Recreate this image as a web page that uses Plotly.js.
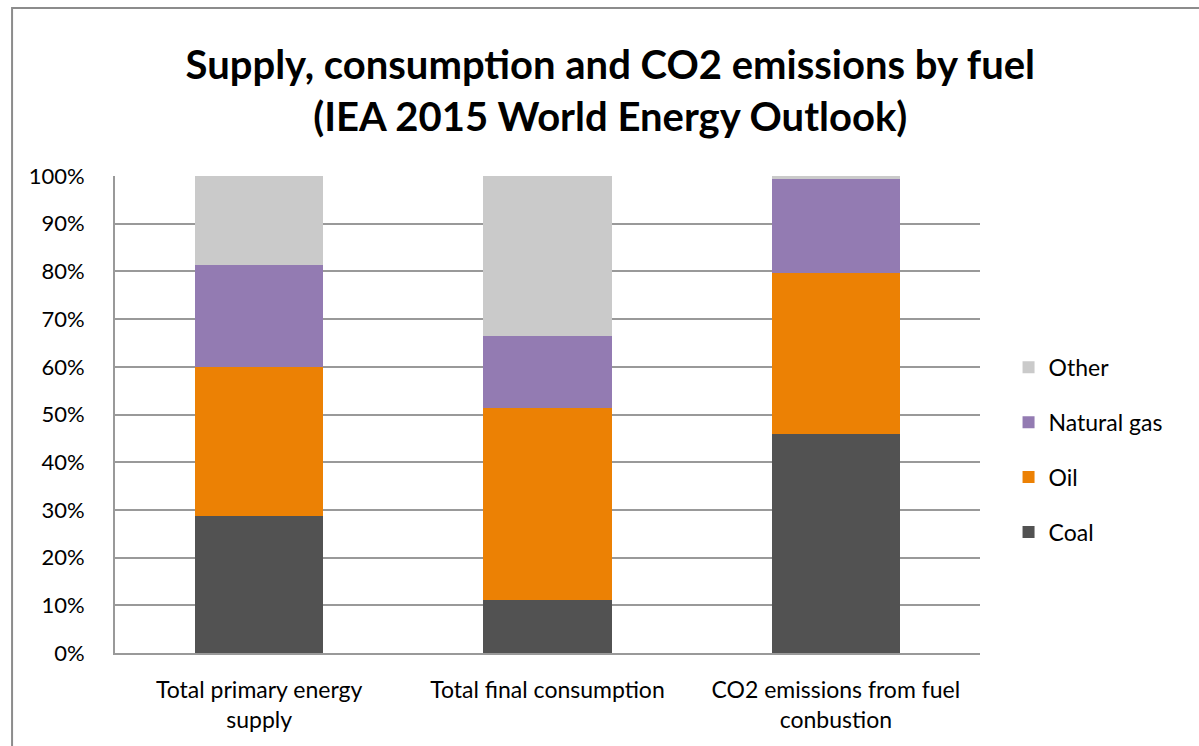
<!DOCTYPE html>
<html>
<head>
<meta charset="utf-8">
<script src="https://cdn.plot.ly/plotly-3.0.1.min.js"></script>
<style>html,body{margin:0;padding:0;background:#fff;}#chart{width:1199px;height:746px;}</style>
</head>
<body>
<div id="chart"></div>
<script>
var categories = ["Total primary energy<br>supply", "Total final consumption", "CO2 emissions from fuel<br>conbustion"];
var coal = [28.7, 11.1, 45.9];
var oil = [31.2, 40.3, 33.7];
var naturalGas = [21.5, 15.1, 19.8];
var other = [18.6, 33.5, 0.6];
var seriesNames = ["Coal", "Oil", "Natural gas", "Other"];
var seriesValues = [coal, oil, naturalGas, other];
var seriesColors = ["#525252", "#ec8104", "#937bb2", "#cacaca"];
var yTicks = [0, 10, 20, 30, 40, 50, 60, 70, 80, 90, 100];

var font = "Lato, 'Open Sans', sans-serif";
var traces = seriesNames.map(function (n, i) {
  return {
    type: "bar",
    name: n,
    x: categories,
    y: seriesValues[i],
    marker: {color: seriesColors[i], line: {width: 0}},
    legendgroup: n,
    legendrank: 4 - i,
    hoverinfo: "x+y+name"
  };
});

var layout = {
  width: 1199,
  height: 746,
  barmode: "stack",
  bargap: 0.556,
  paper_bgcolor: "#ffffff",
  plot_bgcolor: "#ffffff",
  margin: {l: 115, r: 219, t: 176, b: 93},
  font: {family: font, color: "#000000", size: 22},
  title: {
    text: "<b>Supply, consumption and CO2 emissions by fuel<br>(IEA 2015 World Energy Outlook)</b>",
    font: {family: font, size: 40, color: "#000000"},
    x: 0.509, xref: "container", xanchor: "center",
    y: 0.894, yref: "container", yanchor: "middle"
  },
  xaxis: {
    type: "category",
    showgrid: false,
    showline: true,
    linecolor: "#999999",
    linewidth: 2,
    ticks: "",
    tickfont: {family: font, size: 23, color: "#000000"},
    ticklabelstandoff: 15,
    fixedrange: true
  },
  yaxis: {
    range: [0, 100],
    tickvals: yTicks,
    ticktext: yTicks.map(function (v) { return v + "%"; }),
    showgrid: true,
    gridcolor: "#999999",
    gridwidth: 2,
    showline: true,
    linecolor: "#999999",
    linewidth: 2,
    zeroline: false,
    ticks: "",
    tickfont: {family: font, size: 22, color: "#000000"},
    ticklabelstandoff: 24,
    fixedrange: true
  },
  legend: {
    x: 1.033, xanchor: "left",
    y: 0.426, yanchor: "middle",
    traceorder: "grouped",
    tracegroupgap: 22,
    font: {family: font, size: 23, color: "#000000"},
    itemwidth: 30,
    bgcolor: "rgba(0,0,0,0)"
  },
  shapes: [{
    type: "rect", xref: "paper", yref: "paper",
    x0: -0.119, x1: 1.4, y0: -0.4, y1: 1.352,
    line: {color: "#8c8c8c", width: 2}, fillcolor: "rgba(0,0,0,0)", layer: "below"
  }]
};

Plotly.newPlot("chart", traces, layout, {displayModeBar: false, staticPlot: true});
</script>
</body>
</html>
